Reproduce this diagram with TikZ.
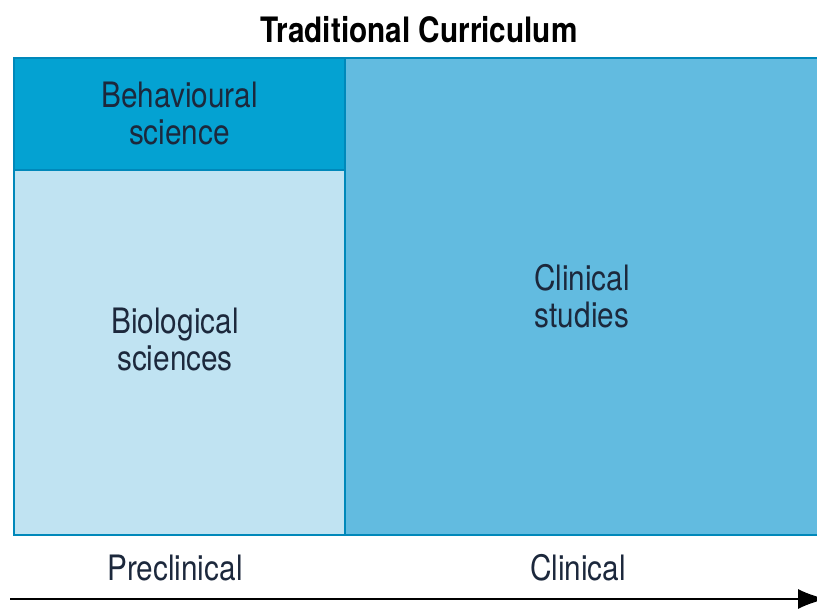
\documentclass[tikz,border=0pt]{standalone}
\usepackage{fontspec}
\setmainfont{TeX Gyre Heros}[FakeStretch=0.85]
\usetikzlibrary{arrows.meta}

\definecolor{behavblue}{RGB}{4,162,210}
\definecolor{bioblue}{RGB}{192,227,242}
\definecolor{clinblue}{RGB}{98,187,224}
\definecolor{edgeblue}{RGB}{0,136,186}
\definecolor{inkblue}{RGB}{28,40,60}

\tikzset{
  area/.style={draw=edgeblue, line width=1.6pt, inner sep=0pt, outer sep=0pt,
    align=center, text=inkblue, font=\fontsize{35}{37}\selectfont},
  phase/.style={text=inkblue, font=\fontsize{35}{37}\selectfont},
}

\begin{document}
\begin{tikzpicture}[x=1pt, y=-1pt]
\useasboundingbox (0,0) rectangle (817,609);

\node (title) at (419, 30) {\fontsize{35}{37}\selectfont\bfseries Traditional Curriculum};

\node (behav) [area, fill=behavblue, minimum width=331pt, minimum height=112pt] at (179.5, 114)   {Behavioural\\science};
\node (bio)   [area, fill=bioblue,   minimum width=331pt, minimum height=365pt] at (179.5, 352.5) {};
\node (clin)  [area, fill=clinblue,  minimum width=474pt, minimum height=477pt] at (582, 296.5)   {Clinical\\studies};
\node (biotext) [phase, align=center] at (175, 340) {Biological\\sciences};

\node (pre)  [phase] at (175, 568) {Preclinical};
\node (post) [phase] at (578, 568) {Clinical};

% the tip runs past the page edge, as in the print
\coordinate (start) at (10, 599);
\coordinate (stop)  at (826, 599);
\draw[-{Latex[length=28pt, width=20pt]}, line width=2pt] (start) -- (stop);
\end{tikzpicture}
\end{document}
